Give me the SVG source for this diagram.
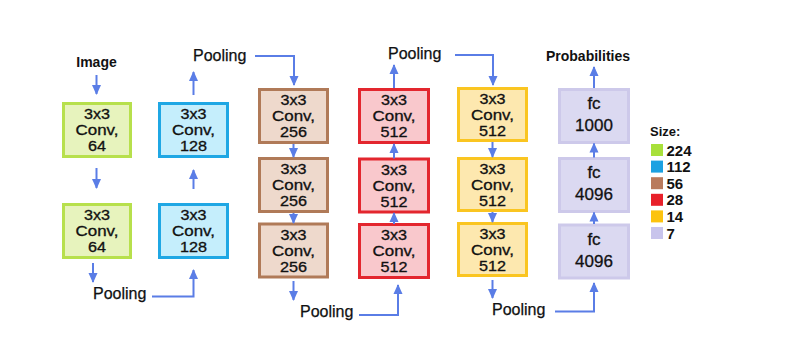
<svg xmlns="http://www.w3.org/2000/svg" width="792" height="346" viewBox="0 0 792 346">
<style>
text{font-family:"Liberation Sans",Arial,sans-serif;fill:#111;}
.t{font-size:14px;text-anchor:middle;stroke:#111;stroke-width:0.3;}
.f{font-size:17px;text-anchor:middle;stroke:#111;stroke-width:0.3;}
.lbl{font-size:16px;stroke:#111;stroke-width:0.25;}
.b{font-weight:bold;font-size:14px;}
.lg{font-weight:bold;font-size:15px;}
.g rect{fill:#e7f3bd;stroke:#b7e04c;stroke-width:3;}
.bl rect{fill:#c5eefc;stroke:#1fa7e4;stroke-width:3;}
.br rect{fill:#eed9cc;stroke:#b07a58;stroke-width:3;}
.rd rect{fill:#f9c8cc;stroke:#e3262e;stroke-width:3;}
.yl rect{fill:#fde8af;stroke:#fac521;stroke-width:3;}
.pu rect{fill:#dbd9f1;stroke:#cdc9ea;stroke-width:3;}
.c path{fill:none;stroke:#5a7de6;stroke-width:2;marker-end:url(#ah);}
</style>
<defs>
<marker id="ah" markerUnits="userSpaceOnUse" markerWidth="10" markerHeight="10" viewBox="0 0 10 10" refX="9" refY="5" orient="auto">
<path d="M0,0.5 L10,5 L0,9.5 Z" fill="#5a7de6"/>
</marker>
</defs>
<rect width="792" height="346" fill="#fff"/>

<g id="n-g1" class="g"><rect x="63.5" y="103.5" width="67" height="53"/><text class="t" x="97" y="119" textLength="26" lengthAdjust="spacingAndGlyphs">3x3</text><text class="t" x="97" y="135" textLength="43" lengthAdjust="spacingAndGlyphs">Conv,</text><text class="t" x="97" y="151" textLength="18" lengthAdjust="spacingAndGlyphs">64</text></g>
<g id="n-g2" class="g"><rect x="63.5" y="204.5" width="67" height="53"/><text class="t" x="97" y="220" textLength="26" lengthAdjust="spacingAndGlyphs">3x3</text><text class="t" x="97" y="236" textLength="43" lengthAdjust="spacingAndGlyphs">Conv,</text><text class="t" x="97" y="252" textLength="18" lengthAdjust="spacingAndGlyphs">64</text></g>

<g id="n-b1" class="bl"><rect x="159.5" y="103.5" width="68" height="53"/><text class="t" x="193.5" y="119" textLength="26" lengthAdjust="spacingAndGlyphs">3x3</text><text class="t" x="193.5" y="135" textLength="43" lengthAdjust="spacingAndGlyphs">Conv,</text><text class="t" x="193.5" y="151" textLength="27" lengthAdjust="spacingAndGlyphs">128</text></g>
<g id="n-b2" class="bl"><rect x="159.5" y="204.5" width="68" height="53"/><text class="t" x="193.5" y="220" textLength="26" lengthAdjust="spacingAndGlyphs">3x3</text><text class="t" x="193.5" y="236" textLength="43" lengthAdjust="spacingAndGlyphs">Conv,</text><text class="t" x="193.5" y="252" textLength="27" lengthAdjust="spacingAndGlyphs">128</text></g>

<g id="n-br1" class="br"><rect x="259.5" y="89.5" width="68" height="53"/><text class="t" x="293.5" y="105" textLength="26" lengthAdjust="spacingAndGlyphs">3x3</text><text class="t" x="293.5" y="121" textLength="43" lengthAdjust="spacingAndGlyphs">Conv,</text><text class="t" x="293.5" y="137" textLength="27" lengthAdjust="spacingAndGlyphs">256</text></g>
<g id="n-br2" class="br"><rect x="259.5" y="158.5" width="68" height="53"/><text class="t" x="293.5" y="174" textLength="26" lengthAdjust="spacingAndGlyphs">3x3</text><text class="t" x="293.5" y="190" textLength="43" lengthAdjust="spacingAndGlyphs">Conv,</text><text class="t" x="293.5" y="206" textLength="27" lengthAdjust="spacingAndGlyphs">256</text></g>
<g id="n-br3" class="br"><rect x="259.5" y="224" width="68" height="53"/><text class="t" x="293.5" y="239.5" textLength="26" lengthAdjust="spacingAndGlyphs">3x3</text><text class="t" x="293.5" y="255.5" textLength="43" lengthAdjust="spacingAndGlyphs">Conv,</text><text class="t" x="293.5" y="271.5" textLength="27" lengthAdjust="spacingAndGlyphs">256</text></g>

<g id="n-r1" class="rd"><rect x="359.5" y="89.5" width="69" height="53"/><text class="t" x="394" y="105" textLength="26" lengthAdjust="spacingAndGlyphs">3x3</text><text class="t" x="394" y="121" textLength="43" lengthAdjust="spacingAndGlyphs">Conv,</text><text class="t" x="394" y="137" textLength="27" lengthAdjust="spacingAndGlyphs">512</text></g>
<g id="n-r2" class="rd"><rect x="359.5" y="159" width="69" height="53"/><text class="t" x="394" y="174.5" textLength="26" lengthAdjust="spacingAndGlyphs">3x3</text><text class="t" x="394" y="190.5" textLength="43" lengthAdjust="spacingAndGlyphs">Conv,</text><text class="t" x="394" y="206.5" textLength="27" lengthAdjust="spacingAndGlyphs">512</text></g>
<g id="n-r3" class="rd"><rect x="359.5" y="224.5" width="69" height="53"/><text class="t" x="394" y="240" textLength="26" lengthAdjust="spacingAndGlyphs">3x3</text><text class="t" x="394" y="256" textLength="43" lengthAdjust="spacingAndGlyphs">Conv,</text><text class="t" x="394" y="272" textLength="27" lengthAdjust="spacingAndGlyphs">512</text></g>

<g id="n-y1" class="yl"><rect x="458.5" y="88.5" width="68" height="52"/><text class="t" x="492.5" y="104" textLength="26" lengthAdjust="spacingAndGlyphs">3x3</text><text class="t" x="492.5" y="120" textLength="43" lengthAdjust="spacingAndGlyphs">Conv,</text><text class="t" x="492.5" y="136" textLength="27" lengthAdjust="spacingAndGlyphs">512</text></g>
<g id="n-y2" class="yl"><rect x="458.5" y="158.5" width="68" height="52"/><text class="t" x="492.5" y="174" textLength="26" lengthAdjust="spacingAndGlyphs">3x3</text><text class="t" x="492.5" y="190" textLength="43" lengthAdjust="spacingAndGlyphs">Conv,</text><text class="t" x="492.5" y="206" textLength="27" lengthAdjust="spacingAndGlyphs">512</text></g>
<g id="n-y3" class="yl"><rect x="458.5" y="223.5" width="68" height="52"/><text class="t" x="492.5" y="239" textLength="26" lengthAdjust="spacingAndGlyphs">3x3</text><text class="t" x="492.5" y="255" textLength="43" lengthAdjust="spacingAndGlyphs">Conv,</text><text class="t" x="492.5" y="271" textLength="27" lengthAdjust="spacingAndGlyphs">512</text></g>

<g id="n-f1" class="pu"><rect x="559.5" y="89.5" width="69" height="53"/><text class="f" x="594" y="109">fc</text><text class="f" x="594" y="131">1000</text></g>
<g id="n-f2" class="pu"><rect x="559.5" y="158.5" width="69" height="53"/><text class="f" x="594" y="178">fc</text><text class="f" x="594" y="200">4096</text></g>
<g id="n-f3" class="pu"><rect x="559.5" y="225" width="69" height="53"/><text class="f" x="594" y="244.5">fc</text><text class="f" x="594" y="266.5">4096</text></g>

<g id="labels">
<text class="b" x="96.5" y="67" text-anchor="middle">Image</text>
<text class="b" x="588" y="61" text-anchor="middle">Probabilities</text>
<text class="lbl" x="93" y="299">Pooling</text>
<text class="lbl" x="193" y="61">Pooling</text>
<text class="lbl" x="300" y="317">Pooling</text>
<text class="lbl" x="388" y="59">Pooling</text>
<text class="lbl" x="492" y="315">Pooling</text>
</g>

<g id="connectors" class="c">
<path d="M96.5,75 V94"/>
<path d="M96.5,168 V188"/>
<path d="M93,263 V282"/>
<path d="M152,296.5 H193.5 V270"/>
<path d="M193.5,189 V170"/>
<path d="M193.5,95 V72"/>
<path d="M255,56 H294 V85"/>
<path d="M293.5,144 V157"/>
<path d="M293.5,213 V223"/>
<path d="M293.5,281 V300"/>
<path d="M359,315 H398 V285"/>
<path d="M394,224 V213"/>
<path d="M394,158.5 V144"/>
<path d="M394,88 V65"/>
<path d="M455,55 H493 V85"/>
<path d="M492.5,142 V157"/>
<path d="M492.5,212 V222"/>
<path d="M492.5,280 V298"/>
<path d="M555,311.5 H594 V283"/>
<path d="M594,224 V212.5"/>
<path d="M594,157.5 V143.5"/>
<path d="M594,88 V67"/>
</g>

<g id="legend">
<text x="650" y="136" style="font-weight:bold;font-size:13px">Size:</text>
<rect x="651" y="144" width="12" height="12" fill="#a8e03a"/><text class="lg" x="666.5" y="155.5">224</text>
<rect x="651" y="160.6" width="12" height="12" fill="#1ba1e2"/><text class="lg" x="666.5" y="172.1">112</text>
<rect x="651" y="177.2" width="12" height="12" fill="#b97a5c"/><text class="lg" x="666.5" y="188.7">56</text>
<rect x="651" y="193.8" width="12" height="12" fill="#e8202a"/><text class="lg" x="666.5" y="205.3">28</text>
<rect x="651" y="210.4" width="12" height="12" fill="#fcc30f"/><text class="lg" x="666.5" y="221.9">14</text>
<rect x="651" y="227" width="12" height="12" fill="#c8c4ec"/><text class="lg" x="666.5" y="238.5">7</text>
</g>
</svg>
